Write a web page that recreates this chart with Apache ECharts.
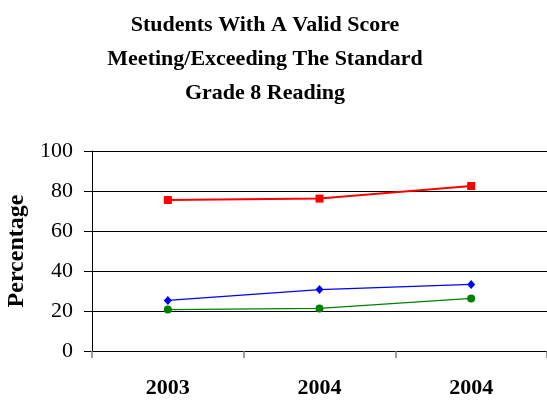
<!DOCTYPE html>
<html>
<head>
<meta charset="utf-8">
<script src="https://cdn.jsdelivr.net/npm/echarts@6/dist/echarts.min.js"></script>
<style>html,body{margin:0;padding:0;background:#fff}#c{width:547px;height:409px}</style>
</head>
<body>
<div id="c"></div>
<script>
var categories = ['2003', '2004', '2004'];
var seriesRed = [75.5, 76.2, 82.5];
var seriesBlue = [25.3, 30.7, 33.3];
var seriesGreen = [20.7, 21.3, 26.3];
var yTicks = [0, 20, 40, 60, 80, 100];

var FONT = '"Liberation Serif", "DejaVu Serif", serif';
var chart = echarts.init(document.getElementById('c'), null, {renderer: 'canvas'});
chart.setOption({
  backgroundColor: '#fff',
  animation: false,
  title: {
    text: 'Students With A Valid Score\nMeeting/Exceeding The Standard\nGrade 8 Reading',
    left: 260,
    textAlign: 'center',
    top: 3,
    textStyle: {fontFamily: FONT, fontSize: 22, fontWeight: 'bold', color: '#000', lineHeight: 34}
  },
  grid: {left: 92, right: 0, top: 151, bottom: 58, containLabel: false, outerBoundsMode: 'none'},
  xAxis: {
    type: 'category',
    data: categories,
    boundaryGap: true,
    axisLine: {show: true, lineStyle: {color: '#000', width: 1}},
    axisTick: {show: true, length: 7, lineStyle: {color: '#808080', width: 1.5}},
    axisLabel: {margin: 26, fontFamily: FONT, fontSize: 22, fontWeight: 'bold', color: '#000'},
    splitLine: {show: false}
  },
  yAxis: {
    type: 'value',
    min: yTicks[0],
    max: yTicks[yTicks.length - 1],
    interval: 20,
    name: 'Percentage',
    nameLocation: 'middle',
    nameRotate: 90,
    nameGap: 61,
    nameTextStyle: {fontFamily: FONT, fontSize: 24, fontWeight: 'bold', color: '#000'},
    axisLine: {show: true, lineStyle: {color: '#000', width: 1}},
    axisTick: {show: true, length: 8, lineStyle: {color: '#000'}},
    axisLabel: {margin: 19, fontFamily: FONT, fontSize: 22, color: '#000'},
    splitLine: {show: true, lineStyle: {color: '#000', width: 1}}
  },
  series: [
    {type: 'line', data: seriesRed, symbol: 'rect', symbolSize: 8, color: '#ff0000',
     lineStyle: {color: '#ff0000', width: 2}, itemStyle: {color: '#ff0000'}},
    {type: 'line', data: seriesBlue, symbol: 'diamond', symbolSize: [8, 9], color: '#0000ff',
     lineStyle: {color: '#0000ff', width: 1.2}, itemStyle: {color: '#0000ff'}},
    {type: 'line', data: seriesGreen, symbol: 'circle', symbolSize: 8, color: '#008000',
     lineStyle: {color: '#008000', width: 1.2}, itemStyle: {color: '#008000'}}
  ]
});
</script>
</body>
</html>
